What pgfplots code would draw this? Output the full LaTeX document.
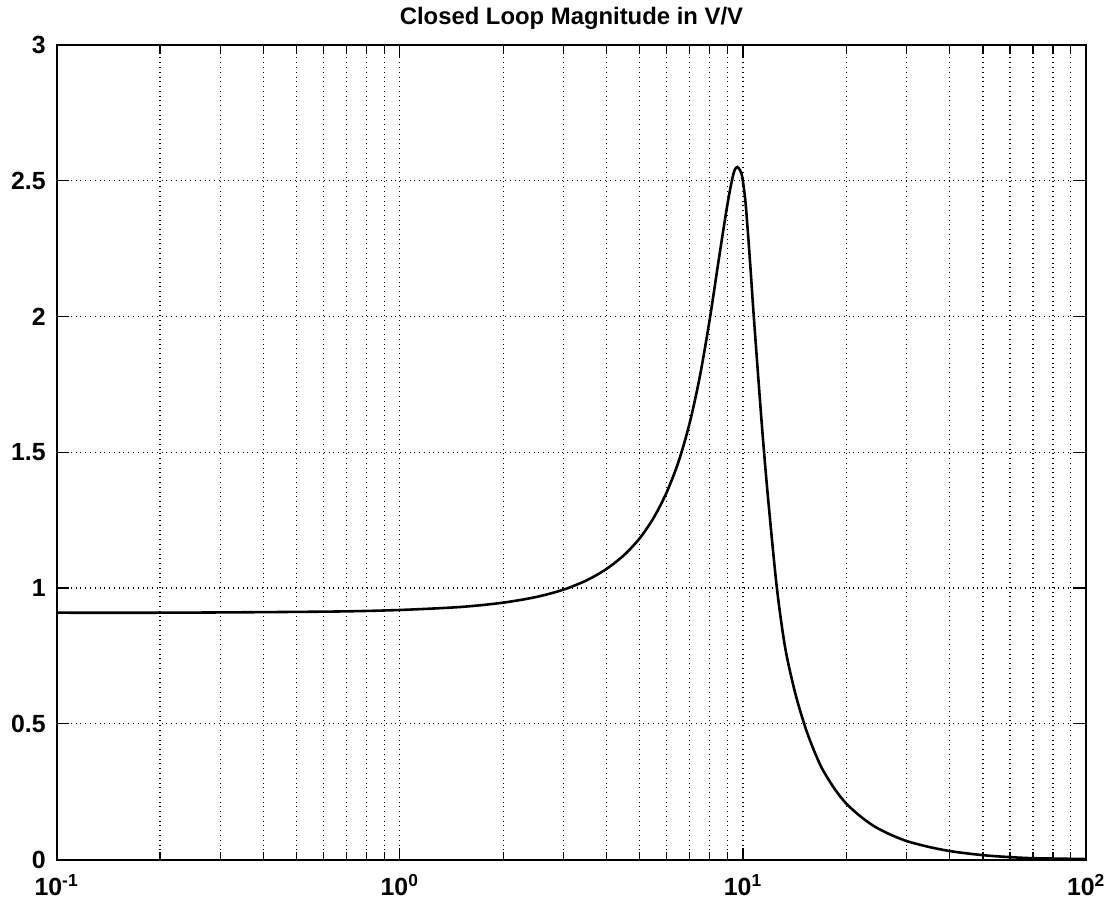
\documentclass[border=0pt]{standalone}
\usepackage{fontspec}
\setmainfont{Liberation Sans}
\usepackage{pgfplots}
\pgfplotsset{compat=1.18}
\begin{document}
\begin{tikzpicture}
\begin{axis}[
  xmode=log,
  scale only axis,
  width=518pt, height=410pt,
  xmin=0.1, xmax=100,
  ymin=0, ymax=3,
  axis line style={line width=1pt},
  xtick={0.1,1,10,100},
  xticklabels={10\textsuperscript{-1},10\textsuperscript{0},10\textsuperscript{1},10\textsuperscript{2}},
  ytick={0,0.5,1,1.5,2,2.5,3},
  yticklabels={0,0.5,1,1.5,2,2.5,3},
  tick label style={font=\fontsize{12.5}{14}\selectfont\bfseries},
  tick align=inside,
  tick style={black, line width=0.6pt},
  major tick length=6pt,
  minor tick length=4pt,
  grid=both,
  major grid style={black, dotted, line width=0.6pt},
  minor grid style={black, dotted, line width=0.6pt},
  minor y tick num=0,
  title={Closed Loop Magnitude in V/V},
  title style={font=\fontsize{12}{14}\selectfont\bfseries, yshift=-2pt},
  xticklabel style={yshift=-4pt},
  yticklabel style={xshift=-2pt},
]
\addplot[black, line width=1.3pt, smooth, tension=0.5] coordinates {
(0.1,0.909) (0.2,0.909) (0.3,0.910) (0.5,0.912) (0.7,0.914) (1.0,0.919)
(1.5,0.930) (2.0,0.946) (2.5,0.967) (3.0,0.994) (3.5,1.028) (4.0,1.070)
(4.5,1.121) (5.0,1.183) (5.5,1.260) (6.0,1.354) (6.5,1.468) (7.0,1.610)
(7.5,1.784) (8.0,1.990) (8.5,2.210) (9.0,2.410) (9.3,2.505) (9.45,2.538)
(9.62,2.550) (9.8,2.538) (9.94,2.515) (10.15,2.430) (10.33,2.311) (10.51,2.180)
(10.74,2.006) (11.16,1.720) (11.48,1.520) (11.87,1.310) (12.55,1.000)
(13.27,0.780) (14.18,0.615) (15.16,0.490) (16,0.410) (17,0.335) (18.5,0.260)
(20.0,0.206) (22,0.159) (24.17,0.122) (27,0.091) (30.2,0.067) (35,0.046)
(40.3,0.031) (47,0.020) (53.8,0.013) (67,0.006) (80,0.004) (100,0.002)
};
\end{axis}
\path (current axis.south west) +(-28.5pt,-21pt) (current axis.north east) +(9.5pt,22.5pt);
\end{tikzpicture}
\end{document}
